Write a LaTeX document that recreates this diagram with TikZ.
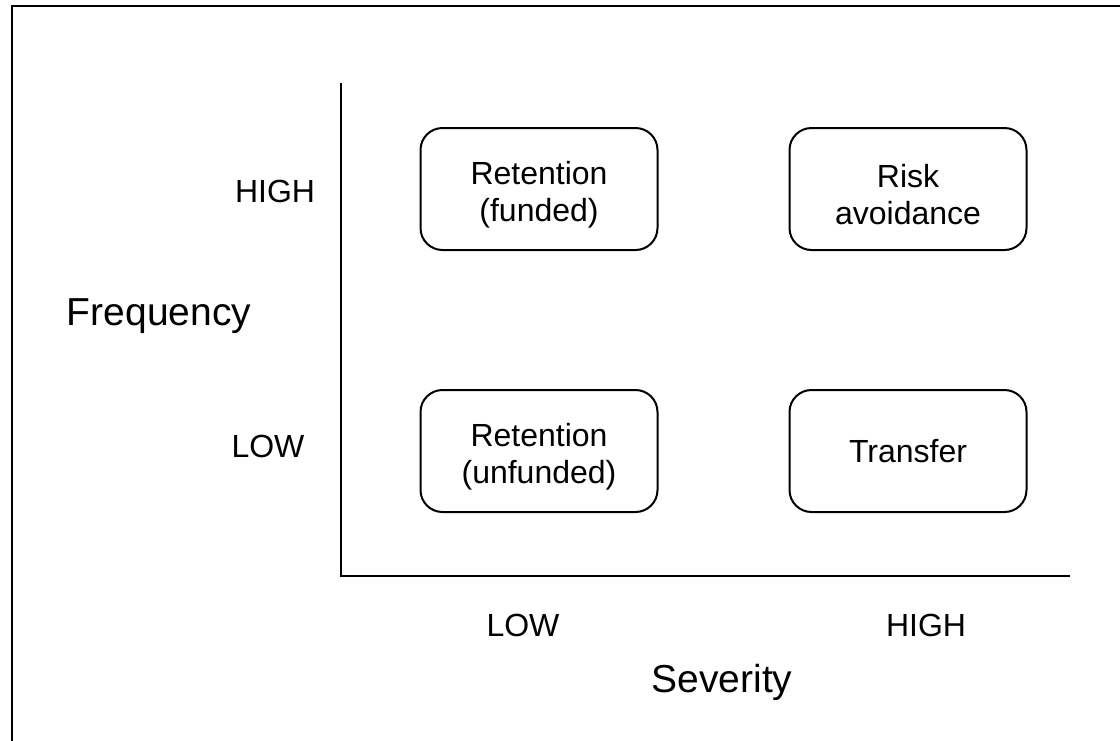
\documentclass[tikz,border=0pt]{standalone}
\usepackage{fontspec}
\setmainfont{Liberation Sans}
% taller first line so two-line labels sit a little lower in their box
\newcommand{\firstlinestrut}{\rule{0pt}{35pt}}
\begin{document}
\begin{tikzpicture}[x=1pt,y=-1pt,
  quadbox/.style={draw, line width=2pt, rounded corners=22pt,
    minimum width=237pt, minimum height=122pt, align=center,
    font=\fontsize{32}{37}\selectfont, inner sep=0pt},
  ticklabel/.style={anchor=base, inner sep=0pt, font=\fontsize{32}{34}\selectfont},
  axistitle/.style={anchor=base, inner sep=0pt, font=\fontsize{39}{42}\selectfont},
  axisline/.style={line width=2.8pt}]
  \useasboundingbox (0,0) rectangle (1120,740);
  \clip (0,0) rectangle (1120,740);

  % outer frame (only its left and top sides fall inside the page)
  \draw[line width=2.6pt] (12,760) -- (12,6) -- (1140,6);

  % axes
  \coordinate (ytop) at (341,83);
  \coordinate (origin) at (341,576);
  \coordinate (xend) at (1070,576);
  \draw[axisline] (ytop) -- (origin) -- (xend);

  % quadrant boxes
  \node[quadbox] (rf) at (539,189) {\firstlinestrut Retention\\(funded)};
  \node[quadbox] (ra) at (908,189) {\firstlinestrut Risk\\avoidance};
  \node[quadbox] (ru) at (539,451) {\firstlinestrut Retention\\(unfunded)};
  \node[quadbox] (tr) at (908,451) {Transfer};

  % axis labels
  \node[ticklabel] (fhigh) at (275,202) {HIGH};
  \node[ticklabel] (flow) at (268,457) {LOW};
  \node[axistitle] (freq) at (159,325) {Frequency};
  \node[ticklabel] (slow) at (523,636) {LOW};
  \node[ticklabel] (shigh) at (926,636) {HIGH};
  \node[axistitle] (sev) at (722,692) {Severity};
\end{tikzpicture}
\end{document}
